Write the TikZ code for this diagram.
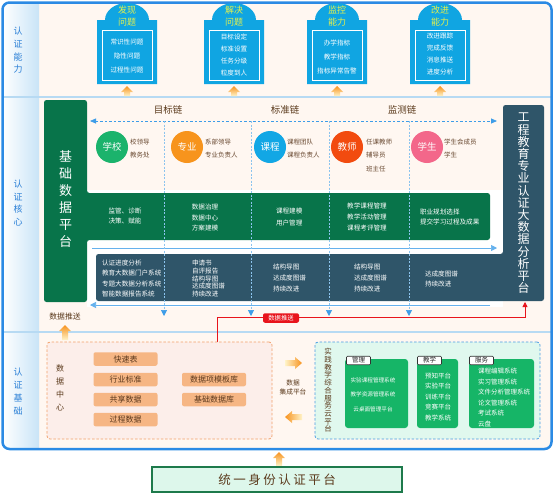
\documentclass[tikz,border=0pt]{standalone}
\usepackage{fontspec}
\setmainfont{Noto Sans CJK SC}
\usetikzlibrary{arrows.meta}
\definecolor{frameblue}{HTML}{2B8AE4}
\definecolor{cream}{HTML}{FFF7F1}
\definecolor{leftblue}{HTML}{C9E4F7}
\definecolor{sepblue}{HTML}{B7DAF3}
\definecolor{badgeblue}{HTML}{10A5E2}
\definecolor{titleyellow}{HTML}{E4F04C}
\definecolor{dkgreen}{HTML}{08744A}
\definecolor{slate}{HTML}{2F5569}
\definecolor{chainblue}{HTML}{3E9DE8}
\definecolor{vblue}{HTML}{8CC4EE}
\definecolor{chainbrown}{HTML}{5B3A1C}
\definecolor{txtbrown}{HTML}{6A4A32}
\definecolor{pushred}{HTML}{E8141C}
\definecolor{tile}{HTML}{F6B684}
\definecolor{tiletext}{HTML}{5C391D}
\definecolor{dcfill}{HTML}{FCEEEA}
\definecolor{dcdraw}{HTML}{F2A06A}
\definecolor{cloudfill}{HTML}{E0F8EE}
\definecolor{clouddraw}{HTML}{4A9CE2}
\definecolor{boxgreen}{HTML}{16B567}
\definecolor{mint}{HTML}{DDF7EB}
\definecolor{botgreen}{HTML}{1D7A4B}
\definecolor{arrorange}{HTML}{F7921E}
\definecolor{arrpale}{HTML}{FFF4C8}
\definecolor{labelblue}{HTML}{2A7FD6}
\definecolor{cgreen}{HTML}{1BB36C}
\definecolor{corange}{HTML}{F7941D}
\definecolor{cblue}{HTML}{12A7E5}
\definecolor{cred}{HTML}{F24B0F}
\definecolor{cpink}{HTML}{F3678A}
\newcommand\fz[2]{\fontsize{#1}{#2}\selectfont}
\newcommand\myuparr[3]{\shade[top color=arrorange, bottom color=arrpale] (#1,#2) -- (#1+6,#2+6) -- (#1+3,#2+6) -- (#1+3,#3) -- (#1-3,#3) -- (#1-3,#2+6) -- (#1-6,#2+6) -- cycle;}
\newcommand\myrarr[3]{\shade[left color=arrpale, right color=arrorange] (#2,#3) -- (#2-7,#3-6) -- (#2-7,#3-3) -- (#1,#3-3) -- (#1,#3+3) -- (#2-7,#3+3) -- (#2-7,#3+6) -- cycle;}
\newcommand\mylarr[3]{\shade[left color=arrorange, right color=arrpale] (#1,#3) -- (#1+7,#3-6) -- (#1+7,#3-3) -- (#2,#3-3) -- (#2,#3+3) -- (#1+7,#3+3) -- (#1+7,#3+6) -- cycle;}
\newcommand\mybadge[6]{%
  \fill[badgeblue] (#1-30,84) -- (#1-30,20) -- (#1-22,20) arc[start angle=180,end angle=0,x radius=22pt,y radius=17pt] -- (#1+30,20) -- (#1+30,84) -- cycle;
  \draw[white, line width=0.8pt] (#1-25,30) rectangle (#1+25,80);
  \node[btitle] (#2T) at (#1,16.5) {#3};
  \node[btext, font=\fz{6.6}{#5}] (#2B) at (#1,#6) {#4};
  \myuparr{#1}{86}{96}
}
\tikzset{
  every node/.style={inner sep=0pt, outer sep=0pt},
  rowlabel/.style={text=labelblue, font=\fz{9}{12.7}, align=center},
  btitle/.style={text=titleyellow, font=\fz{9}{12}, align=center},
  btext/.style={text=white, align=center},
  chain/.style={text=chainbrown, font=\fz{9.5}{11}},
  circ/.style={circle, minimum size=32pt, text=white, font=\fz{9.5}{11}},
  who/.style={text=txtbrown, font=\fz{6.5}{13.5}, align=left, anchor=west},
  wtext/.style={text=white, font=\fz{6.6}{10.5}, align=center},
  wl/.style={text=white, font=\fz{6.6}{10.5}, align=left, anchor=west},
  bigv/.style={text=white, font=\fz{13}{17}, align=center},
  tilebox/.style={fill=tile, rounded corners=2pt, minimum width=64pt, minimum height=13.5pt, text=tiletext, font=\fz{8}{9}},
  gbox/.style={fill=boxgreen, rounded corners=3pt},
  tabbox/.style={fill=white, draw=black!80, line width=0.6pt, rounded corners=1pt, minimum width=24pt, minimum height=8.5pt, text=black!85, font=\fz{6.5}{7}},
  gtext/.style={text=white, font=\fz{6.5}{10.5}, align=center},
  vdash/.style={draw=vblue, line width=0.7pt, dash pattern=on 2pt off 1.5pt, -{Triangle[width=6pt,length=6pt,color=chainblue]}},
  flow/.style={draw=chainblue!80, line width=0.7pt},
}
\begin{document}
\begin{tikzpicture}[x=1pt,y=-1pt]
\useasboundingbox (0,0) rectangle (554,493);
% frame
\begin{scope}
  \clip[rounded corners=7pt] (2.5,2.5) rectangle (551.5,449);
  \fill[cream] (2.5,2.5) rectangle (551.5,449);
  \shade[left color=white, right color=leftblue] (2.5,2.5) rectangle (39,449);
  \fill[sepblue] (2.5,95.5) rectangle (551.5,98);
  \fill[sepblue] (2.5,330.5) rectangle (551.5,332.5);
\end{scope}
\draw[frameblue, line width=2.5pt, rounded corners=7pt] (2.5,2.5) rectangle (551.5,449);
% row labels
\node[rowlabel] (lab1) at (18,50.5) {认\\证\\能\\力};
\node[rowlabel] (lab2) at (18,203) {认\\证\\核\\心};
\node[rowlabel] (lab3) at (18,391.5) {认\\证\\基\\础};
% badges
\mybadge{127}{ba}{发现\\问题}{常识性问题\\隐性问题\\过程性问题}{14}{56}
\mybadge{234}{bb}{解决\\问题}{目标设定\\标准设置\\任务分级\\粒度到人}{12}{55}
\mybadge{337}{bc}{监控\\能力}{办学指标\\教学指标\\指标异常告警}{14}{57}
\mybadge{440}{bd}{改进\\能力}{改进跟踪\\完成反馈\\消息推送\\进度分析}{12}{54}
% core row
\fill[white] (87,190) rectangle (503,307);
\fill[dkgreen, rounded corners=2.5pt] (44,100) -- (87,100) -- (87,193) -- (490,193) -- (490,240) -- (87,240) -- (87,302) -- (44,302) -- cycle;
\fill[slate, rounded corners=2.5pt] (96,254) -- (503,254) -- (503,105) -- (544,105) -- (544,301) -- (96,301) -- cycle;
\node[bigv] (jichu) at (65.5,199.5) {基\\础\\数\\据\\平\\台};
\node[bigv, font=\fz{12}{12.2}] (gongcheng) at (523.5,203.5) {工\\程\\教\\育\\专\\业\\认\\证\\大\\数\\据\\分\\析\\平\\台};
\node[chain] (c1) at (168,110) {目标链};
\node[chain] (c2) at (285,110) {标准链};
\node[chain] (c3) at (402,110) {监测链};
\coordinate (chainL) at (90,121);
\coordinate (chainR) at (497,121);
\draw[chainblue, line width=0.8pt, dash pattern=on 2.5pt off 2pt, {Triangle[width=5pt,length=6pt]}-{Triangle[width=5pt,length=6pt]}] (chainL) -- (chainR);
% circles
\node[circ, fill=cgreen] (school) at (112,147) {学校};
\node[circ, fill=corange] (major) at (187,147) {专业};
\node[circ, fill=cblue] (course) at (270,147) {课程};
\node[circ, fill=cred] (teacher) at (347,147) {教师};
\node[circ, fill=cpink] (student) at (427,147) {学生};
\node[who] (schoolL) at (130,148.5) {校领导\\教务处};
\node[who] (majorL) at (205,148.5) {系部领导\\专业负责人};
\node[who] (courseL) at (287,148.5) {课程团队\\课程负责人};
\node[who] (teacherL) at (366,155.5) {任课教师\\辅导员\\班主任};
\node[who] (studentL) at (444,148.5) {学生会成员\\学生};
% green band text
\node[wtext, font=\fz{6.6}{10}] (g1) at (125,216) {监管、诊断\\决策、赋能};
\node[wtext] (g2) at (205,217.5) {数据治理\\数据中心\\方案建模};
\node[wl, font=\fz{6.6}{11.5}] (g3) at (276,217) {课程建模\\用户管理};
\node[wtext, font=\fz{6.6}{11}] (g4) at (367,217) {教学课程管理\\教学活动管理\\课程考评管理};
\node[wl, font=\fz{6.6}{10}] (g5) at (420,217) {职业规划选择\\提交学习过程及成果};
% slate band text
\node[wl, font=\fz{6.6}{10.3}] (d1) at (102,278.5) {认证进度分析\\教育大数据门户系统\\专题大数据分析系统\\智能数据报告系统};
\node[wl, font=\fz{6.6}{7.9}] (d2) at (192,278.5) {申请书\\自评报告\\结构导图\\达成度图谱\\持续改进};
\node[wl, font=\fz{6.6}{11}] (d3) at (273,278) {结构导图\\达成度图谱\\持续改进};
\node[wl, font=\fz{6.6}{11}] (d4) at (354,278) {结构导图\\达成度图谱\\持续改进};
\node[wl, font=\fz{6.6}{10}] (d5) at (425,279) {达成度图谱\\持续改进};
% flow lines
\coordinate (flowL) at (92,248);
\coordinate (flowR) at (497,248);
\draw[flow, -{Triangle[width=6pt,length=6pt]}] (flowL) -- (flowR);
\coordinate (backR) at (490,305);
\coordinate (backL) at (90,305);
\draw[flow, -{Triangle[width=6pt,length=6pt]}] (backR) -- (backL);
\foreach \x/\n in {164/a,251/b,329/c,409/d}{
  \coordinate (v\n t) at (\x,121);
  \coordinate (v\n b) at (\x,316);
  \draw[vdash] (v\n t) -- (v\n b);
}
% data push
\node[text=chainbrown, font=\fz{7.8}{9}] (pushL) at (65,317) {数据推送};
\myuparr{65}{325}{340}
\coordinate (rs) at (217,342);
\coordinate (re) at (525,302);
\draw[pushred, line width=0.8pt, -{Triangle[width=5pt,length=5pt]}] (rs) -- ++(0,-25) -| (re);
\node[fill=pushred, rounded corners=2pt, minimum width=36pt, minimum height=9.5pt, text=white, font=\fz{6.3}{7}] (pushR) at (281,318) {数据推送};
% data center
\node[draw=dcdraw, fill=dcfill, dash pattern=on 2.5pt off 1.8pt, line width=0.8pt, rounded corners=3pt, minimum width=225pt, minimum height=97pt] (dc) at (159.5,390.5) {};
\node[text=chainbrown, font=\fz{8}{13}, align=center] (dcT) at (60,387.5) {数\\据\\中\\心};
\node[tilebox] (t1) at (125.5,359) {快速表};
\node[tilebox] (t2) at (125.5,379.5) {行业标准};
\node[tilebox] (t3) at (125.5,399.5) {共享数据};
\node[tilebox] (t4) at (125.5,419.5) {过程数据};
\node[tilebox] (t5) at (214,379.5) {数据项模板库};
\node[tilebox] (t6) at (214,399.5) {基础数据库};
% integration
\myrarr{285}{302}{363}
\node[text=chainbrown, font=\fz{6.7}{9}, align=center] (integ) at (293,387.5) {数据\\集成平台};
\mylarr{285}{302}{417}
% cloud platform
\node[draw=clouddraw, fill=cloudfill, dash pattern=on 2.5pt off 1.8pt, line width=0.8pt, rounded corners=3pt, minimum width=225pt, minimum height=97pt] (cloud) at (427.5,390.5) {};
\node[text=chainbrown, font=\fz{7.5}{7.7}, align=center] (cloudT) at (328,390.5) {实\\践\\教\\学\\综\\合\\服\\务\\云\\平\\台};
\node[gbox, minimum width=63pt, minimum height=69pt] (mg) at (376.5,393.5) {};
\node[gbox, minimum width=41pt, minimum height=69pt] (tc) at (437.5,393.5) {};
\node[gbox, minimum width=65pt, minimum height=69pt] (sv) at (501.5,393.5) {};
\node[tabbox] (mgTab) at (358.5,360.5) {管理};
\node[tabbox] (tcTab) at (429.5,360.5) {教学};
\node[tabbox] (svTab) at (481.5,360.5) {服务};
\node[gtext, font=\fz{5.6}{14.5}] (mgT) at (373,394.5) {实验课程管理系统\\教学资源管理系统\\云桌面管理平台};
\node[gtext, font=\fz{6.5}{10.5}] (tcT) at (438,397) {预知平台\\实验平台\\训练平台\\竞赛平台\\教学系统};
\node[gtext, font=\fz{6.5}{10.5}, align=left, anchor=west] (svT) at (478,397.5) {课程编辑系统\\实习管理系统\\文件分析管理系统\\论文管理系统\\考试系统\\云盘};
% bottom
\myuparr{279}{452}{466}
\node[fill=mint, draw=botgreen, line width=1.8pt, minimum width=250pt, minimum height=25pt, text=chainbrown, font=\fz{12.5}{14}] (uni) at (277,479.5) {统\hspace{2.5pt}一\hspace{2.5pt}身\hspace{2.5pt}份\hspace{2.5pt}认\hspace{2.5pt}证\hspace{2.5pt}平\hspace{2.5pt}台};
\end{tikzpicture}
\end{document}
